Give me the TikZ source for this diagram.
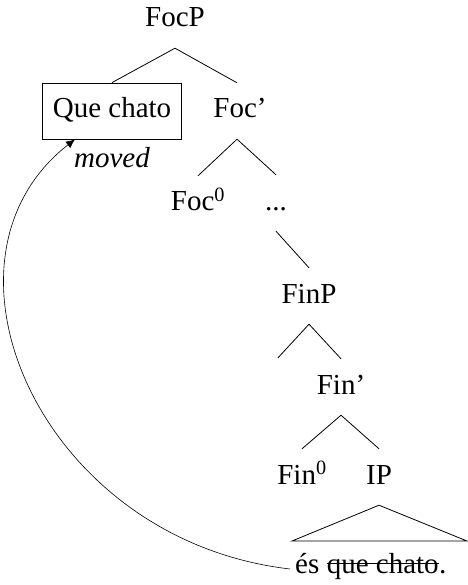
\documentclass[tikz,border=0pt]{standalone}
\usepackage{fontspec}
\setmainfont{Liberation Serif}
\usetikzlibrary{arrows.meta,calc}
\begin{document}
\begin{tikzpicture}[x=1pt,y=-1pt,
  font=\fontsize{29}{35}\selectfont,
  tn/.style={anchor=base,inner xsep=11pt,inner ysep=15pt,text height=20pt,text depth=6pt},
  wd/.style={anchor=base west,inner sep=0pt},
  branch/.style={line width=0.8pt},
  strike/.style={line width=0.8pt},
  movearrow/.style={line width=0.6pt,-{Latex[length=9pt,width=8pt]}}]
\useasboundingbox (0,0) rectangle (467,585);
\node[tn] (focp) at (175,27) {FocP};
\node[tn,draw,line width=0.8pt,inner xsep=10pt] (que) at (112,118) {Que chato};
\node[tn] (focbar) at (240,118) {Foc’};
\node[anchor=base,inner sep=0pt] (moved) at (112,168) {\itshape moved};
\node[tn] (foc0) at (198,211) {Foc\textsuperscript{0}};
\node[tn] (dots) at (276,210) {...};
\node[tn] (finp) at (309,303) {FinP};
\node[tn] (empty) at (278,393) {};
\node[tn] (finbar) at (341,394) {Fin’};
\node[tn] (fin0) at (302,484) {Fin\textsuperscript{0}};
\node[tn] (ip) at (379,484) {IP};
\node[wd] (es) at (295,573) {és};
\node[wd] (qc) at ([xshift=7pt]es.base east) {que chato};
\node[wd] (dot) at (qc.base east) {.};
\draw[strike] ([yshift=10pt]qc.base west) -- ([yshift=10pt]qc.base east);
\coordinate (tl) at (292,541);
\coordinate (tr) at (467,541);
\draw[branch] (focp.south) -- (que.north);
\draw[branch] (focp.south) -- ([xshift=-3pt]focbar.north);
\draw[branch] ([xshift=-3pt]focbar.south) -- (foc0.north);
\draw[branch] ([xshift=-3pt]focbar.south) -- (dots.north);
\draw[branch] (dots.south) -- (finp.north);
\draw[branch] (finp.south) -- (empty.north);
\draw[branch] (finp.south) -- (finbar.north);
\draw[branch] (finbar.south) -- (fin0.north);
\draw[branch] (finbar.south) -- (ip.north);
\draw[branch] (ip.south) -- (tl) -- (tr) -- cycle;
\draw[movearrow] ([xshift=-5pt,yshift=4pt]es.base west) .. controls (40,540) and (-80,260) .. ([xshift=-37pt]que.south);
\end{tikzpicture}
\end{document}
